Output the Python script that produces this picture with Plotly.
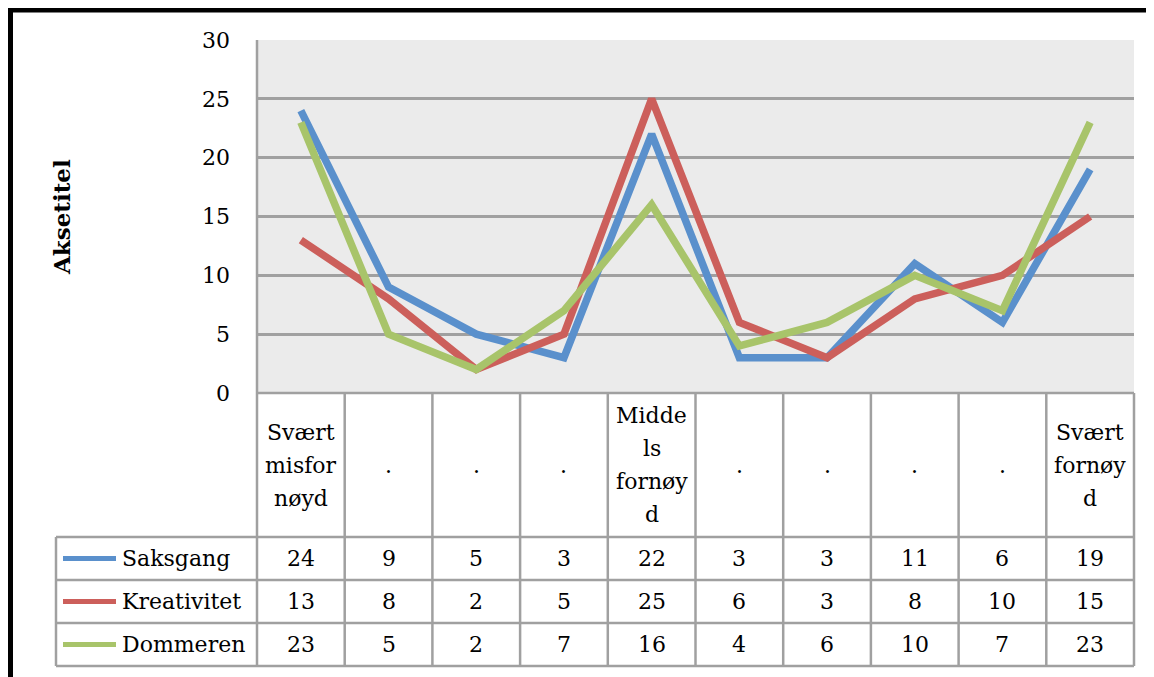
import plotly.graph_objects as go

# data
categories = ["Svært<br>misfor<br>nøyd", ".", ".", ".", "Midde<br>ls<br>fornøy<br>d",
              ".", ".", ".", ".", "Svært<br>fornøy<br>d"]
series_names = ["Saksgang", "Kreativitet", "Dommeren"]
saksgang = [24, 9, 5, 3, 22, 3, 3, 11, 6, 19]
kreativitet = [13, 8, 2, 5, 25, 6, 3, 8, 10, 15]
dommeren = [23, 5, 2, 7, 16, 4, 6, 10, 7, 23]
colors = ["#5A90CC", "#CC5F5B", "#A8C46A"]
y_ticks = [0, 5, 10, 15, 20, 25, 30]

# page is offset by the 8px body margin of the html page
OFF = 8
W, H = 1154 - OFF, 677 - OFF
FONT = "DejaVu Serif"
GRID = "#A0A0A0"

# geometry in screen pixels
plot_l, plot_r = 257, 1134
plot_t, plot_b = 40, 393
table_l = 56
row_lines = [537, 580, 623, 666]
line_gap = 33  # spacing of wrapped header lines


def px(x):
    return (x - OFF) / W


def py(y):
    return 1 - (y - OFF) / H


fig = go.Figure()
all_series = [saksgang, kreativitet, dommeren]
idx = list(range(len(categories)))
for name, vals, col in zip(series_names, all_series, colors):
    fig.add_trace(go.Scatter(x=idx, y=vals, mode="lines", name=name,
                             line=dict(color=col, width=7.5), showlegend=False))

shapes = []
# black frame
shapes.append(dict(type="line", xref="paper", yref="paper", x0=px(10.5), x1=px(10.5),
                   y0=py(7.5), y1=0, line=dict(color="black", width=5)))
shapes.append(dict(type="line", xref="paper", yref="paper", x0=px(8), x1=1,
                   y0=py(10), y1=py(10), line=dict(color="black", width=5)))


def hline(y, x0, x1):
    shapes.append(dict(type="line", xref="paper", yref="paper", x0=px(x0), x1=px(x1),
                       y0=py(y), y1=py(y), line=dict(color=GRID, width=2.5)))


def vline(x, y0, y1):
    shapes.append(dict(type="line", xref="paper", yref="paper", x0=px(x), x1=px(x),
                       y0=py(y0), y1=py(y1), line=dict(color=GRID, width=2.5)))


# table grid
hline(plot_b, plot_l, plot_r)
for y in row_lines:
    hline(y, table_l, plot_r)
col_w = (plot_r - plot_l) / len(categories)
for k in range(len(categories) + 1):
    vline(plot_l + k * col_w, plot_b, row_lines[-1])
vline(plot_l, plot_t, plot_b)
vline(table_l, row_lines[0], row_lines[-1])

annotations = []
# header row, one annotation per wrapped line
head_c = (plot_b + row_lines[0]) / 2
for i, cat in enumerate(categories):
    parts = cat.split("<br>")
    for j, part in enumerate(parts):
        yy = head_c + (j - (len(parts) - 1) / 2) * line_gap
        annotations.append(dict(x=i, y=py(yy), xref="x", yref="paper",
                                text=part, showarrow=False, yanchor="middle",
                                font=dict(family=FONT, size=22, color="black")))
# data rows with legend keys
for r, (name, vals, col) in enumerate(zip(series_names, all_series, colors)):
    yc = (row_lines[r] + row_lines[r + 1]) / 2
    shapes.append(dict(type="line", xref="paper", yref="paper", x0=px(63), x1=px(116),
                       y0=py(yc), y1=py(yc), line=dict(color=col, width=5)))
    annotations.append(dict(x=px(120), y=py(yc), xref="paper", yref="paper", text=name,
                            xanchor="left", yanchor="middle", showarrow=False,
                            font=dict(family=FONT, size=22, color="black")))
    for i, v in enumerate(vals):
        annotations.append(dict(x=i, y=py(yc), xref="x", yref="paper", text=str(v),
                                yanchor="middle", showarrow=False,
                                font=dict(family=FONT, size=22, color="black")))

annotations.append(dict(x=px(62), y=py(217), xref="paper", yref="paper", text="<b>Aksetitel</b>",
                        textangle=-90, showarrow=False, xanchor="center", yanchor="middle",
                        font=dict(family=FONT, size=23, color="black")))

fig.update_layout(
    width=W, height=H,
    margin=dict(l=0, r=0, t=0, b=0, autoexpand=False),
    paper_bgcolor="white",
    plot_bgcolor="#EBEBEB",
    shapes=shapes,
    annotations=annotations,
    xaxis=dict(domain=[px(plot_l), px(plot_r)], range=[-0.5, len(categories) - 0.5],
               showticklabels=False, showgrid=False, zeroline=False, fixedrange=True),
    yaxis=dict(domain=[py(plot_b), py(plot_t)], range=[0, 30], tickvals=y_ticks,
               showgrid=True, gridcolor=GRID, gridwidth=2.5, zeroline=False,
               ticklabelstandoff=26, automargin=False,
               tickfont=dict(family=FONT, size=22, color="black")),
)

fig.write_html("out.html")
